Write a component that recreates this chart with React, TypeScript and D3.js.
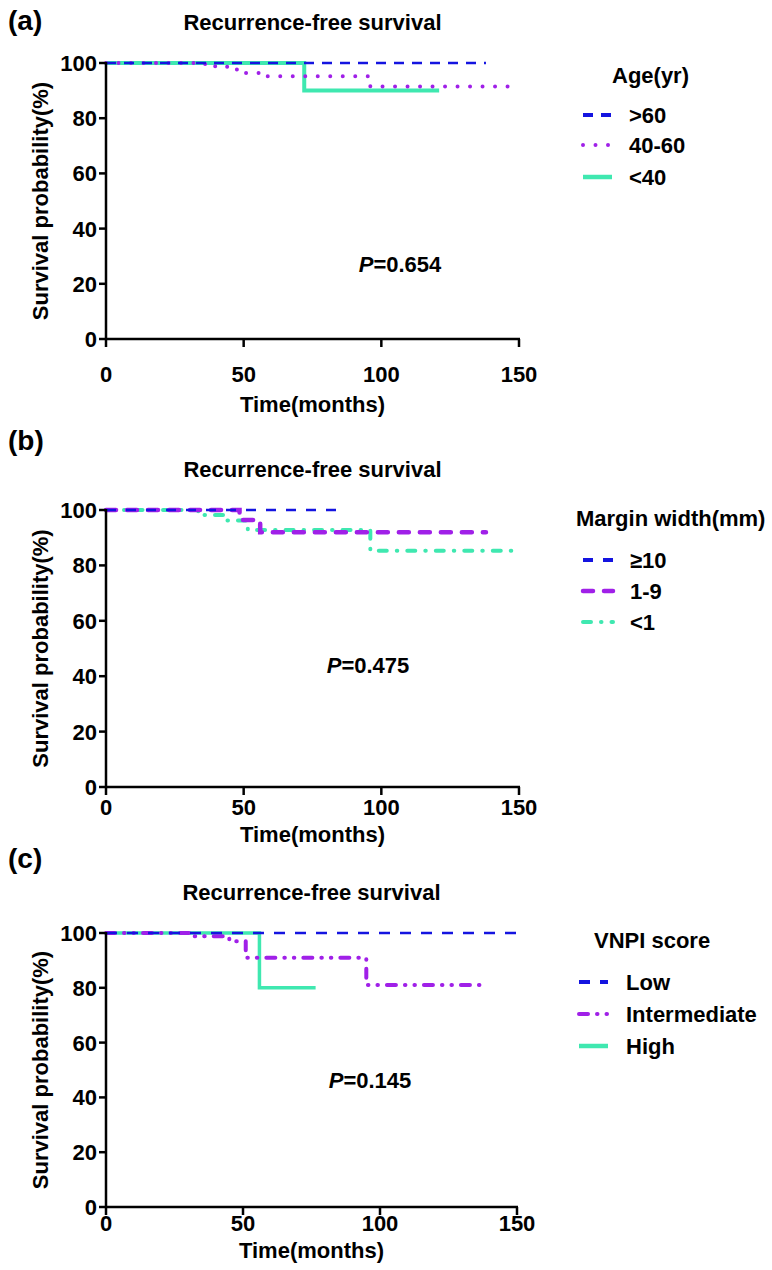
import React from "react";
import * as d3 from "d3";

const xTicks = [0, 50, 100, 150];
const yTicks = [0, 20, 40, 60, 80, 100];

// (a) age groups
const ageNames = [">60", "40-60", "<40"];
const ageOver60Time = [0, 138];
const ageOver60Surv = [100, 100];
const age40to60Time = [0, 36, 44, 50, 56, 96, 150];
const age40to60Surv = [100, 98.8, 97.6, 96.4, 95.2, 91.5, 91.5];
const ageUnder40Time = [0, 72, 121];
const ageUnder40Surv = [100, 90, 90];
const ageP = "0.654";

// (b) margin width
const marginNames = ["\u226510", "1-9", "<1"];
const marginWideTime = [0, 86];
const marginWideSurv = [100, 100];
const marginMidTime = [0, 48.5, 56, 138];
const marginMidSurv = [100, 96.4, 92, 92];
const marginNarrowTime = [0, 33.5, 42.5, 51.5, 96, 150];
const marginNarrowSurv = [100, 98.2, 96.2, 92.8, 85.3, 85.3];
const marginP = "0.475";

// (c) VNPI score
const vnpiNames = ["Low", "Intermediate", "High"];
const vnpiLowTime = [0, 150];
const vnpiLowSurv = [100, 100];
const vnpiMidTime = [0, 32, 45, 51, 95, 137.5];
const vnpiMidSurv = [100, 98.8, 97, 91, 81, 81];
const vnpiHighTime = [0, 56, 76.5];
const vnpiHighSurv = [100, 80, 80];
const vnpiP = "0.145";

const BLUE = "#1414e0";
const PURPLE = "#a020e8";
const GREEN = "#3fe8b0";
const FONT = "'Liberation Sans', Arial, Helvetica, sans-serif";

const zip = (t: number[], s: number[]) => t.map((v, i) => [v, s[i]] as [number, number]);

const panels = [
  {
    tag: "(a)", tagY: 30, titleY: 30, top: 63, bottom: 339, right: 519,
    tickY: 382, labelY: 412, p: ageP, pX: 400, pY: 272,
    legendTitle: "Age(yr)", legendTitleX: 612, legendTitleY: 83,
    rows: [115, 145, 177], sample: [583, 612], textX: 629,
    names: ageNames,
    series: [
      { pts: zip(ageOver60Time, ageOver60Surv), color: BLUE, w: 2.5, dash: "10,8", cap: "butt", lw: 4 },
      { pts: zip(age40to60Time, age40to60Surv), color: PURPLE, w: 4, dash: "0,12.5", cap: "round", lw: 4 },
      { pts: zip(ageUnder40Time, ageUnder40Surv), color: GREEN, w: 4, dash: "", cap: "butt", lw: 4.5 },
    ],
  },
  {
    tag: "(b)", tagY: 450, titleY: 477, top: 510, bottom: 787, right: 519,
    tickY: 815, labelY: 842, p: marginP, pX: 368, pY: 673,
    legendTitle: "Margin width(mm)", legendTitleX: 576, legendTitleY: 526,
    rows: [560, 591, 622], sample: [583, 613], textX: 630,
    names: marginNames,
    series: [
      { pts: zip(marginWideTime, marginWideSurv), color: BLUE, w: 2.5, dash: "10,10", cap: "butt", lw: 4 },
      { pts: zip(marginMidTime, marginMidSurv), color: PURPLE, w: 4.5, dash: "10,11", cap: "round", lw: 4.5 },
      { pts: zip(marginNarrowTime, marginNarrowSurv), color: GREEN, w: 4, dash: "8,10,0.5,10", cap: "round", lw: 4 },
    ],
  },
  {
    tag: "(c)", tagY: 868, titleY: 900, top: 933, bottom: 1207, right: 517,
    tickY: 1231, labelY: 1258, p: vnpiP, pX: 370, pY: 1088,
    legendTitle: "VNPI score", legendTitleX: 594, legendTitleY: 948,
    rows: [982, 1014, 1046], sample: [579, 608], textX: 626,
    names: vnpiNames,
    series: [
      { pts: zip(vnpiLowTime, vnpiLowSurv), color: BLUE, w: 2.5, dash: "11,10", cap: "butt", lw: 4 },
      { pts: zip(vnpiMidTime, vnpiMidSurv), color: PURPLE, w: 4, dash: "9,9,0.5,9,0.5,9", cap: "round", lw: 4 },
      { pts: zip(vnpiHighTime, vnpiHighSurv), color: GREEN, w: 3.5, dash: "", cap: "butt", lw: 4.5 },
    ],
  },
];

function Panel({ cfg }: { cfg: any }) {
  const x = d3.scaleLinear().domain([0, 150]).range([106, cfg.right]);
  const y = d3.scaleLinear().domain([0, 100]).range([cfg.bottom, cfg.top]);
  const line = d3
    .line<[number, number]>()
    .x((d) => x(d[0]))
    .y((d) => y(d[1]))
    .curve(d3.curveStepAfter);
  const midX = (x(0) + x(150)) / 2;
  const midY = (y(0) + y(100)) / 2;
  const order = [2, 1, 0];

  return (
    <g fontFamily={FONT} fontWeight="bold" fill="#000">
      <text x={8} y={cfg.tagY} fontSize={28}>{cfg.tag}</text>
      <text x={midX} y={cfg.titleY} fontSize={22} textAnchor="middle">Recurrence-free survival</text>

      {order.map((i) => {
        const s = cfg.series[i];
        return (
          <path key={i} d={line(s.pts) || ""} fill="none" stroke={s.color}
            strokeWidth={s.w} strokeDasharray={s.dash || undefined} strokeLinecap={s.cap} />
        );
      })}

      {/* axes */}
      <line x1={x(0)} x2={x(0)} y1={y(100) - 1} y2={y(0)} stroke="#000" strokeWidth={2.5} />
      <line x1={x(0) - 1} x2={x(150) + 1} y1={y(0)} y2={y(0)} stroke="#000" strokeWidth={2.5} />
      {yTicks.map((t) => (
        <g key={"y" + t}>
          <line x1={x(0) - 7} x2={x(0)} y1={y(t)} y2={y(t)} stroke="#000" strokeWidth={2.5} />
          <text x={x(0) - 9} y={y(t)} dy="0.36em" fontSize={22} textAnchor="end">{t}</text>
        </g>
      ))}
      {xTicks.map((t) => (
        <g key={"x" + t}>
          <line x1={x(t)} x2={x(t)} y1={y(0)} y2={y(0) + 8} stroke="#000" strokeWidth={2.5} />
          <text x={x(t)} y={cfg.tickY} fontSize={22} textAnchor="middle">{t}</text>
        </g>
      ))}
      <text x={midX} y={cfg.labelY} fontSize={22} textAnchor="middle">Time(months)</text>
      <text transform={`translate(48,${midY}) rotate(-90)`} fontSize={22} textAnchor="middle">
        Survival probability(%)
      </text>

      <text x={cfg.pX} y={cfg.pY} fontSize={22} textAnchor="middle">
        <tspan fontStyle="italic">P</tspan>={cfg.p}
      </text>

      {/* legend */}
      <text x={cfg.legendTitleX} y={cfg.legendTitleY} fontSize={22}>{cfg.legendTitle}</text>
      {cfg.series.map((s: any, i: number) => (
        <g key={"l" + i}>
          <line x1={cfg.sample[0]} x2={cfg.sample[1]} y1={cfg.rows[i]} y2={cfg.rows[i]}
            stroke={s.color} strokeWidth={s.lw} strokeDasharray={s.dash || undefined} strokeLinecap={s.cap} />
          <text x={cfg.textX} y={cfg.rows[i]} dy="0.36em" fontSize={22}>{cfg.names[i]}</text>
        </g>
      ))}
    </g>
  );
}

export default function App() {
  return (
    <svg width={772} height={1270} style={{ position: "absolute", left: 0, top: 0, background: "#fff" }}>
      <rect width={772} height={1270} fill="#fff" />
      {panels.map((p) => (
        <Panel key={p.tag} cfg={p} />
      ))}
    </svg>
  );
}
